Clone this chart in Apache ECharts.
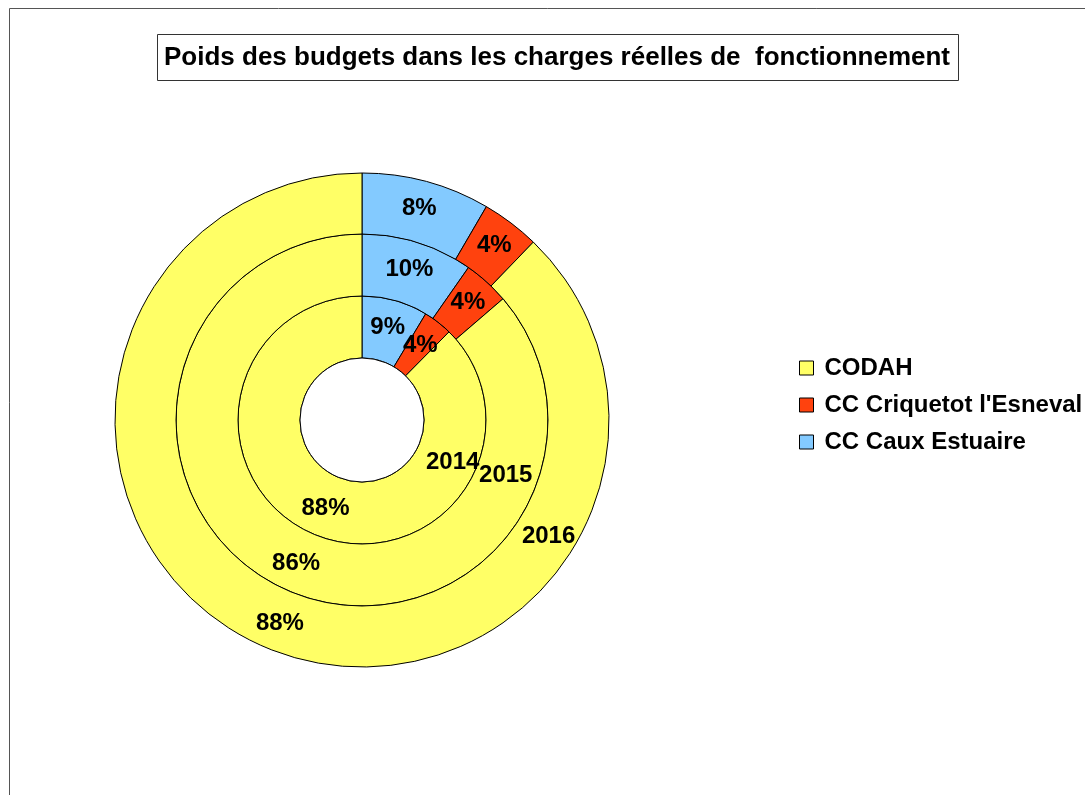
<!DOCTYPE html>
<html>
<head>
<meta charset="utf-8">
<script src="https://cdn.jsdelivr.net/npm/echarts@6/dist/echarts.min.js"></script>
<style>
  html, body { margin: 0; padding: 0; background: #fff; }
  #chart { width: 1085px; height: 795px; }
</style>
</head>
<body>
<div id="chart"></div>
<script>
// categories, in drawing order (clockwise from 12 o'clock)
const names = ['CC Caux Estuaire', "CC Criquetot l'Esneval", 'CODAH']
const legendOrder = ['CODAH', "CC Criquetot l'Esneval", 'CC Caux Estuaire']
const colors = ['#83caff', '#ff420e', '#ffff66']
const years = ['2014', '2015', '2016']
// share of each budget (%), per year
const v2014 = [8.6, 3.8, 87.6]
const v2015 = [9.7, 4.0, 86.3]
const v2016 = [8.4, 3.8, 87.8]
const yearValues = [v2014, v2015, v2016]

const cx = 362
const cy = 420
const rings = [[62, 124], [124, 186], [186, 247]]
// where the year tag sits in each ring (radius, angle from top clockwise)
const yearTagPos = [[100, 115], [154, 111], [220, 122]]

let myChart = echarts.init(document.getElementById('chart'))

const labelFont = 'Liberation Sans, Arial, sans-serif'

// echarts hides inside labels that overflow a thin sector, so those are drawn as text below
function labelFits (v, ring) {
  return v / 100 * 2 * Math.PI * (ring[0] + ring[1]) / 2 > 30
}

let extraLabels = []

let series = yearValues.map((vals, i) => {
  let total = vals.reduce((a, b) => a + b, 0)
  let acc = 0
  let data = vals.map((v, j) => {
    let mid = (acc + v / 2) / total * 2 * Math.PI
    acc += v
    let item = { value: v, name: names[j], itemStyle: { color: colors[j] } }
    if (!labelFits(v, rings[i])) {
      item.label = { show: false }
      let r = (rings[i][0] + rings[i][1]) / 2 + 2
      extraLabels.push({ text: Math.round(v / total * 100) + '%', x: cx + r * Math.sin(mid), y: cy - r * Math.cos(mid) })
    }
    return item
  })
  return {
    name: years[i],
    type: 'pie',
    center: [cx, cy],
    radius: rings[i],
    startAngle: 90,
    clockwise: true,
    avoidLabelOverlap: false,
    animation: false,
    silent: true,
    itemStyle: { borderColor: '#000', borderWidth: 1 },
    label: {
      show: true,
      position: 'inside',
      formatter: p => Math.round(p.value) + '%',
      color: '#000',
      fontFamily: labelFont,
      fontWeight: 'bold',
      fontSize: 24
    },
    labelLine: { show: false },
    data: data
  }
})

let graphics = [
  // outer frame
  { type: 'rect', shape: { x: 9.5, y: 8.5, width: 1200, height: 900 },
    style: { fill: 'none', stroke: '#555', lineWidth: 1 }, silent: true },
  // title box
  { type: 'rect', shape: { x: 157.5, y: 34.5, width: 801, height: 46 },
    style: { fill: '#fff', stroke: '#333', lineWidth: 1 }, silent: true },
  { type: 'text', x: 557, y: 58,
    style: { text: 'Poids des budgets dans les charges réelles de  fonctionnement',
      font: 'bold 26px ' + labelFont, fill: '#000', align: 'center', verticalAlign: 'middle' } },
  // inner hole outline
  { type: 'circle', shape: { cx: cx, cy: cy, r: rings[0][0] },
    style: { fill: '#fff', stroke: '#000', lineWidth: 1 }, silent: true, z: 10 }
]
yearTagPos.forEach((pos, i) => {
  let a = pos[1] * Math.PI / 180
  graphics.push({
    type: 'text', z: 20,
    x: cx + pos[0] * Math.sin(a),
    y: cy - pos[0] * Math.cos(a),
    style: { text: years[i], font: 'bold 24px ' + labelFont, fill: '#000',
      align: 'center', verticalAlign: 'middle' }
  })
})
extraLabels.forEach(l => {
  graphics.push({
    type: 'text', z: 20, x: l.x, y: l.y,
    style: { text: l.text, font: 'bold 24px ' + labelFont, fill: '#000',
      align: 'center', verticalAlign: 'middle' }
  })
})

myChart.setOption({
  animation: false,
  backgroundColor: '#fff',
  legend: {
    data: legendOrder,
    orient: 'vertical',
    left: 799,
    top: 356,
    padding: 0,
    icon: 'rect',
    itemWidth: 14,
    itemHeight: 14,
    itemGap: 13,
    selectedMode: false,
    itemStyle: { borderColor: '#000', borderWidth: 1 },
    textStyle: {
      color: '#000',
      fontFamily: labelFont,
      fontWeight: 'bold',
      fontSize: 24,
      lineHeight: 24,
      padding: [0, 0, 0, 6]
    }
  },
  graphic: graphics,
  series: series
})
</script>
</body>
</html>
